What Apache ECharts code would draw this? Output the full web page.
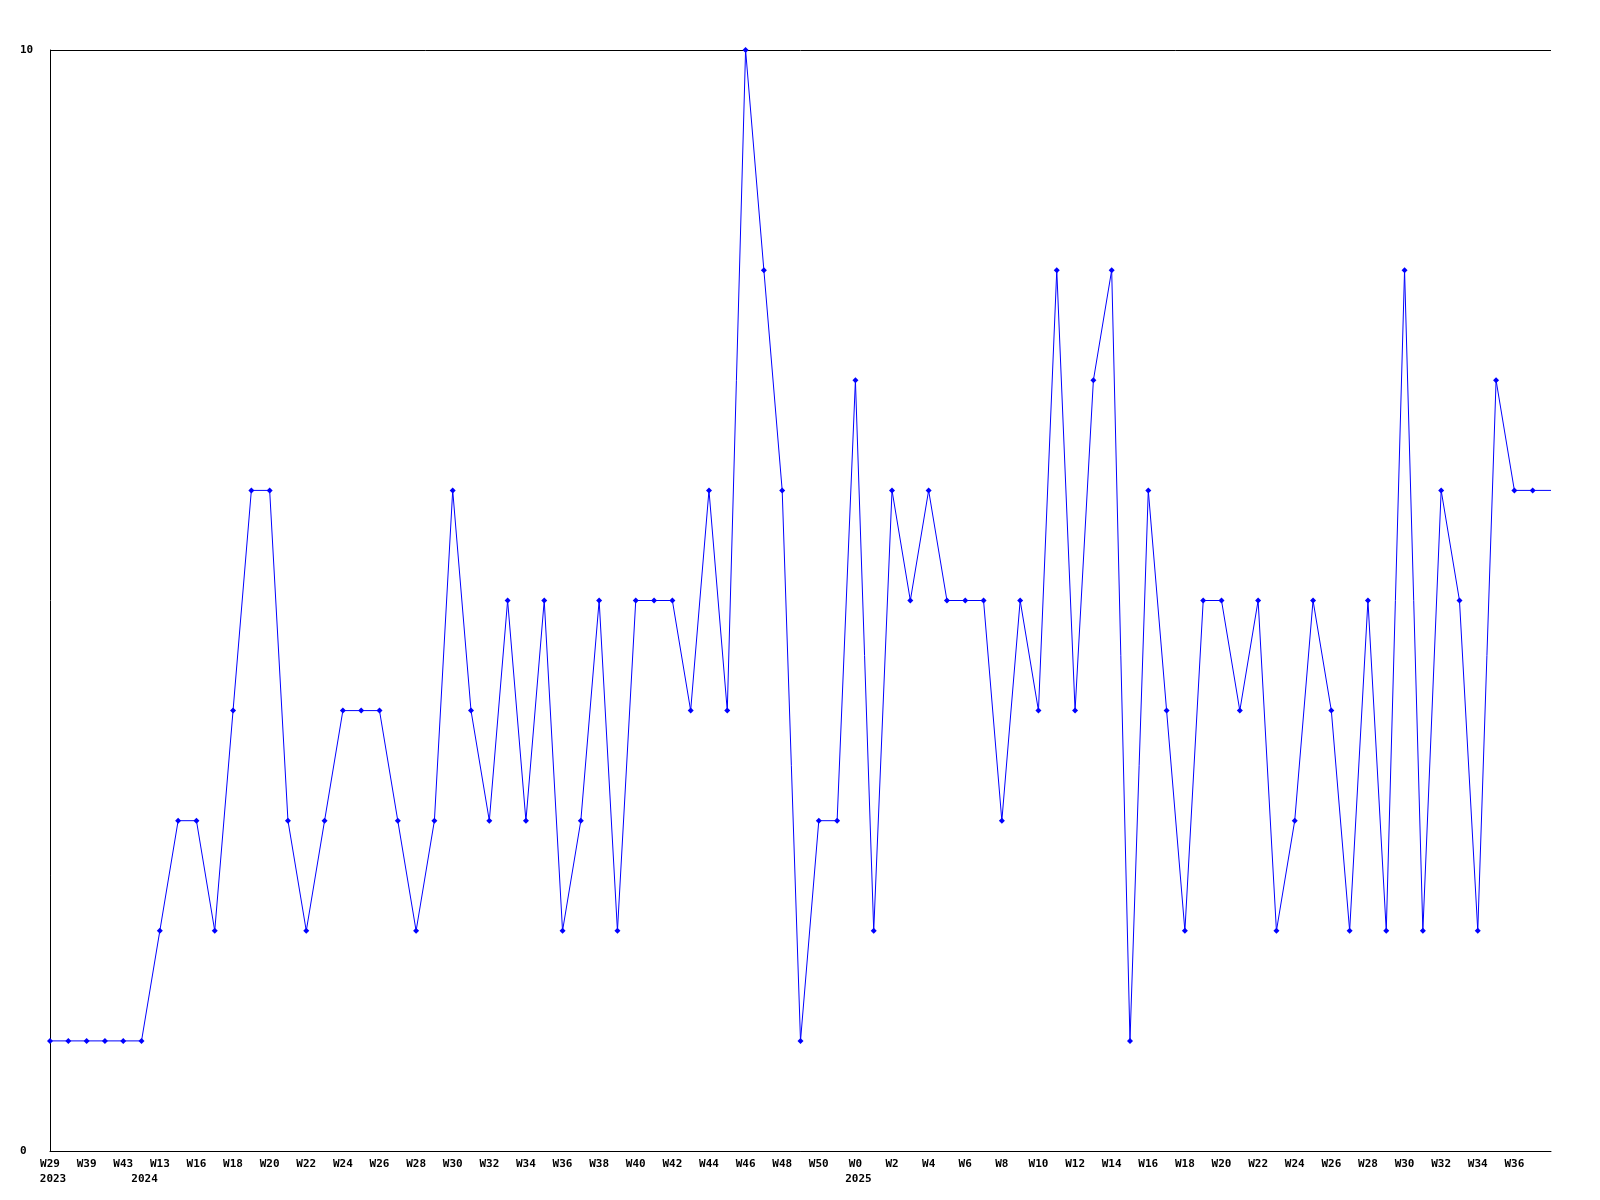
<!DOCTYPE html>
<html>
<head>
<meta charset="utf-8" />
<script src="https://cdn.jsdelivr.net/npm/echarts@6/dist/echarts.min.js"></script>
<style>
  html, body { margin: 0; padding: 0; background: #fff; }
  #chart { width: 1600px; height: 1200px; }
</style>
</head>
<body>
<div id="chart"></div>
<script>
// week categories (only weeks that have data)
const weeks = [
  "W29", "W35", "W39", "W41", "W43",
  "W5", "W13", "W15", "W16", "W17", "W18", "W19", "W20", "W21", "W22", "W23", "W24", "W25",
  "W26", "W27", "W28", "W29", "W30", "W31", "W32", "W33", "W34", "W35", "W36", "W37",
  "W38", "W39", "W40", "W41", "W42", "W43", "W44", "W45", "W46", "W47", "W48", "W49",
  "W50", "W51",
  "W0", "W1", "W2", "W3", "W4", "W5", "W6", "W7", "W8", "W9", "W10", "W11", "W12",
  "W13", "W14", "W15", "W16", "W17", "W18", "W19", "W20", "W21", "W22", "W23", "W24",
  "W25", "W26", "W27", "W28", "W29", "W30", "W31", "W32", "W33", "W34", "W35", "W36",
  "W37", "W38",
];
// year shown under the first week of each year: [index, year]
const yearMarks = [[0, "2023"], [5, "2024"], [44, "2025"]];

const counts = [
  1, 1, 1, 1, 1, 1,
  2, 3, 3, 2, 4, 6, 6, 3, 2, 3, 4, 4,
  4, 3, 2, 3, 6, 4, 3, 5, 3, 5, 2, 3,
  5, 2, 5, 5, 5, 4, 6, 4, 10, 8, 6, 1,
  3, 3,
  7, 2, 6, 5, 6, 5, 5, 5, 3, 5, 4, 8, 4,
  7, 8, 1, 6, 4, 2, 5, 5, 4, 5, 2, 3,
  5, 4, 2, 5, 2, 8, 2, 6, 5, 2, 7, 6,
  6, 6,
];

const yearAt = {};
yearMarks.forEach(([i, y]) => (yearAt[i] = y));

const chart = echarts.init(document.getElementById("chart"));
const font = "'DejaVu Sans Mono', monospace";
const labelFont = {
  color: "#000",
  fontFamily: font,
  fontWeight: "bold",
  fontSize: 11,
};

chart.setOption({
  animation: false,
  grid: { left: 50, right: 49, top: 50, bottom: 49 },
  xAxis: [
    {
      type: "category",
      data: weeks,
      boundaryGap: false,
      axisLine: { lineStyle: { color: "#000", width: 1 } },
      axisTick: { show: false },
      axisLabel: {
        ...labelFont,
        interval: (idx) => idx % 2 === 0 && idx < weeks.length - 1,
        margin: 8,
      },
    },
    {
      // year row under the week labels
      type: "category",
      data: weeks,
      boundaryGap: false,
      position: "bottom",
      axisLine: { show: false },
      axisTick: { show: false },
      axisLabel: {
        ...labelFont,
        interval: 0,
        formatter: (v, idx) => yearAt[idx] || "",
        margin: 23,
        padding: [0, 0, 0, 6],
      },
    },
  ],
  yAxis: {
    type: "value",
    min: 0,
    max: 10,
    interval: 10,
    axisLine: { show: true, lineStyle: { color: "#000", width: 1 } },
    axisTick: { show: false },
    splitLine: { show: true, lineStyle: { color: "#000", width: 1 } },
    axisLabel: {
      ...labelFont,
      align: "left",
      margin: 30,
    },
  },
  series: [
    {
      type: "line",
      data: counts.map((v, i) =>
        i === counts.length - 1 ? { value: v, symbol: "none" } : v
      ),
      symbol: "diamond",
      symbolSize: 6,
      showAllSymbol: true,
      itemStyle: { color: "#0000ff" },
      lineStyle: { color: "#0000ff", width: 1 },
    },
  ],
});
</script>
</body>
</html>
